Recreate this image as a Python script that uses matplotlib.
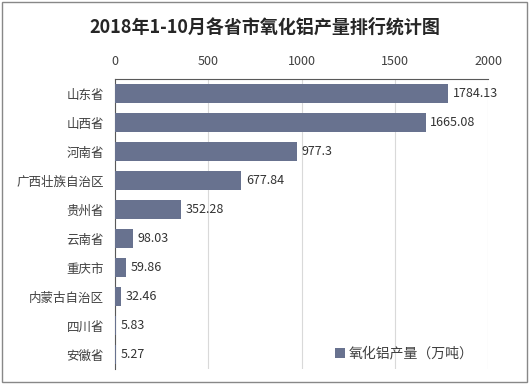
import matplotlib.pyplot as plt
import numpy as np

plt.rcParams['font.family'] = ['Noto Sans CJK SC', 'DejaVu Sans']

provinces = ['山东省', '山西省', '河南省', '广西壮族自治区', '贵州省',
             '云南省', '重庆市', '内蒙古自治区', '四川省', '安徽省']
output = [1784.13, 1665.08, 977.3, 677.84, 352.28, 98.03, 59.86, 32.46, 5.83, 5.27]
xticks = [0, 500, 1000, 1500, 2000]

fig = plt.figure(figsize=(5.3, 3.84), dpi=100)
ax = fig.add_axes([0.217, 0.039, 0.704, 0.755])

y = np.arange(len(provinces))
ax.barh(y, output, height=0.68, color='#68728f', label='氧化铝产量（万吨）', zorder=3)
for yi, v in zip(y, output):
    ax.text(v + 25, yi, f'{v:g}', va='center', ha='left', fontsize=9, color='#333333')

ax.set_ylim(len(provinces) - 0.5, -0.5)
ax.set_xlim(0, 2000)
ax.set_xticks(xticks)
ax.set_yticks(y)
ax.set_yticklabels(provinces)
ax.xaxis.tick_top()
ax.tick_params(axis='x', length=0, pad=8, labelsize=9, colors='#404040')
ax.tick_params(axis='y', length=0, pad=8, labelsize=9, colors='#404040')
ax.grid(axis='x', color='#d9d9d9', linewidth=0.8, zorder=0)
for s in ['right', 'bottom']:
    ax.spines[s].set_visible(False)
for s in ['top', 'left']:
    ax.spines[s].set_color('#595959')
    ax.spines[s].set_linewidth(0.8)

ax.legend(loc='lower right', bbox_to_anchor=(0.995, -0.015), frameon=False, fontsize=10,
          handlelength=0.7, handleheight=0.7, handletextpad=0.3, labelcolor='#404040')

fig.text(0.5, 0.93, '2018年1-10月各省市氧化铝产量排行统计图', ha='center', va='center',
         fontsize=13, fontweight='bold', color='#262626')

fig.patches.append(plt.Rectangle((0.004, 0.004), 0.99, 0.99, transform=fig.transFigure,
                                 fill=False, edgecolor='#888888', linewidth=1))

fig.savefig('out.png', dpi=100)
